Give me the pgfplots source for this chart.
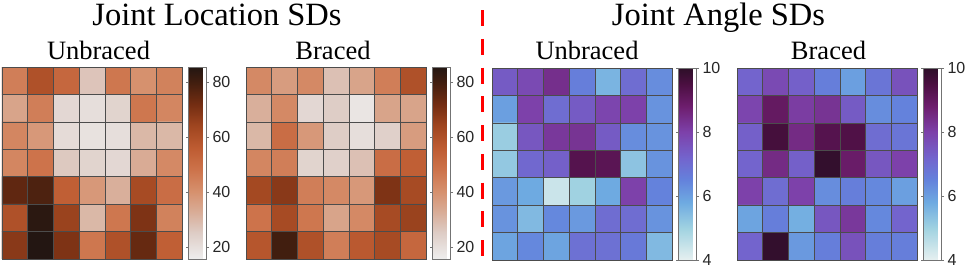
\documentclass[border=0pt]{standalone}
\usepackage{fontspec}
\setmainfont{Liberation Serif}
\newfontfamily\cbfont{Liberation Sans}
\usepackage{pgfplots}
\pgfplotsset{compat=1.18}

\pgfplotsset{
  colormap={brownmap}{
    rgb255(15.5pt)=(238,238,238);
    rgb255(25pt)=(222,205,198);
    rgb255(32pt)=(217,175,155);
    rgb255(40pt)=(214,145,110);
    rgb255(48pt)=(205,115,75);
    rgb255(56pt)=(190,92,50);
    rgb255(64pt)=(160,70,32);
    rgb255(72pt)=(115,45,18);
    rgb255(80pt)=(65,30,15);
    rgb255(85.5pt)=(35,22,18)
  },
  colormap={bluemap}{
    rgb255(40pt)=(230,240,240);
    rgb255(50pt)=(160,210,225);
    rgb255(58pt)=(110,170,225);
    rgb255(65pt)=(100,130,220);
    rgb255(72pt)=(115,100,205);
    rgb255(80pt)=(125,65,170);
    rgb255(88pt)=(110,30,110);
    rgb255(95pt)=(75,15,65);
    rgb255(100pt)=(45,15,40)
  },
  hm/.style={
    scale only axis, width=180pt, height=192pt,
    anchor=north west,
    xmin=-0.5, xmax=6.5, ymin=-0.5, ymax=6.5, y dir=reverse,
    enlargelimits=false,
    xtick={-0.5,0.5,...,6.5}, ytick={-0.5,0.5,...,6.5},
    xticklabels={}, yticklabels={},
    major tick length=0pt,
    grid=major, grid style={draw=black!70, line width=0.6pt},
    axis on top, axis line style={draw=black!70, line width=0.6pt},
    colorbar,
    colorbar style={
      at={(parent axis.north east)}, anchor=north west, xshift=-2pt,
      width=18pt,
      axis line style={draw=black!55, line width=0.6pt},
      major tick length=2.5pt,
      tick style={draw=black!55},
      tick align=outside,
      yticklabel style={font=\cbfont\fontsize{16}{18}\selectfont, text=black!85},
      /pgf/number format/assume math mode=true,
    },
  },
}

\begin{document}
\begin{tikzpicture}
\path[use as bounding box] (0pt,0pt) rectangle (967pt,-268pt);
\fill[white] (0pt,0pt) rectangle (967pt,-268pt);

% titles
\node[anchor=base, inner sep=0pt] at (217pt,-25pt) {\fontsize{32.5}{36}\selectfont Joint Location SDs};
\node[anchor=base, inner sep=0pt] at (718.5pt,-25pt) {\fontsize{32.5}{36}\selectfont Joint Angle SDs};
\node[anchor=base, inner sep=0pt] at (98.5pt,-59pt) {\fontsize{26.5}{30}\selectfont Unbraced};
\node[anchor=base, inner sep=0pt] at (333pt,-59pt) {\fontsize{26.5}{30}\selectfont Braced};
\node[anchor=base, inner sep=0pt] at (587pt,-59pt) {\fontsize{26.5}{30}\selectfont Unbraced};
\node[anchor=base, inner sep=0pt] at (828.5pt,-59pt) {\fontsize{26.5}{30}\selectfont Braced};

% divider
\draw[red, line width=3.8pt, dash pattern=on 16pt off 12.75pt] (482.5pt,-10pt) -- (482.5pt,-257pt);

% Joint Location, Unbraced
\begin{axis}[hm, at={(2pt,-67pt)}, colormap name=brownmap,
  point meta min=15.5, point meta max=85.5,
  colorbar style={ytick={20,40,60,80}}]
\addplot[matrix plot*, mesh/cols=7, point meta=explicit] coordinates {
(0,0)[45] (1,0)[60] (2,0)[52] (3,0)[27] (4,0)[47] (5,0)[40] (6,0)[44]
(0,1)[35] (1,1)[45] (2,1)[22] (3,1)[20] (4,1)[23] (5,1)[47] (6,1)[43]
(0,2)[43] (1,2)[38] (2,2)[21] (3,2)[19] (4,2)[20] (5,2)[30] (6,2)[30]
(0,3)[43] (1,3)[48] (2,3)[26] (3,3)[23] (4,3)[22] (5,3)[33] (6,3)[42]
(0,4)[75] (1,4)[78] (2,4)[55] (3,4)[38] (4,4)[32] (5,4)[62] (6,4)[50]
(0,5)[60] (1,5)[84] (2,5)[65] (3,5)[30] (4,5)[47] (5,5)[70] (6,5)[44]
(0,6)[68] (1,6)[86] (2,6)[70] (3,6)[47] (4,6)[60] (5,6)[74] (6,6)[55]
};
\end{axis}

% Joint Location, Braced
\begin{axis}[hm, at={(246pt,-67pt)}, colormap name=brownmap,
  point meta min=15.5, point meta max=85.5,
  colorbar style={ytick={20,40,60,80}}]
\addplot[matrix plot*, mesh/cols=7, point meta=explicit] coordinates {
(0,0)[42] (1,0)[37] (2,0)[42] (3,0)[28] (4,0)[35] (5,0)[45] (6,0)[60]
(0,1)[32] (1,1)[42] (2,1)[22] (3,1)[25] (4,1)[18] (5,1)[35] (6,1)[35]
(0,2)[30] (1,2)[50] (2,2)[38] (3,2)[25] (4,2)[20] (5,2)[24] (6,2)[37]
(0,3)[43] (1,3)[45] (2,3)[23] (3,3)[24] (4,3)[28] (5,3)[50] (6,3)[55]
(0,4)[63] (1,4)[68] (2,4)[45] (3,4)[42] (4,4)[38] (5,4)[70] (6,4)[62]
(0,5)[48] (1,5)[62] (2,5)[47] (3,5)[35] (4,5)[42] (5,5)[62] (6,5)[65]
(0,6)[58] (1,6)[80] (2,6)[60] (3,6)[45] (4,6)[57] (5,6)[62] (6,6)[52]
};
\end{axis}

% Joint Angle, Unbraced
\begin{axis}[hm, at={(492pt,-68pt)}, colormap name=bluemap,
  point meta min=4, point meta max=10,
  colorbar style={ytick={4,6,8,10}}]
\addplot[matrix plot*, mesh/cols=7, point meta=explicit] coordinates {
(0,0)[7.4] (1,0)[7.8] (2,0)[8.4] (3,0)[6.6] (4,0)[5.6] (5,0)[7.0] (6,0)[6.3]
(0,1)[6.0] (1,1)[8.0] (2,1)[7.0] (3,1)[7.4] (4,1)[7.9] (5,1)[8.0] (6,1)[6.2]
(0,2)[5.1] (1,2)[7.5] (2,2)[8.2] (3,2)[8.3] (4,2)[7.4] (5,2)[6.3] (6,2)[6.2]
(0,3)[5.2] (1,3)[7.1] (2,3)[7.3] (3,3)[9.3] (4,3)[9.2] (5,3)[5.3] (6,3)[6.2]
(0,4)[6.1] (1,4)[5.8] (2,4)[4.4] (3,4)[5.0] (4,4)[5.8] (5,4)[8.0] (6,4)[6.5]
(0,5)[6.2] (1,5)[5.5] (2,5)[6.4] (3,5)[6.1] (4,5)[7.0] (5,5)[7.0] (6,5)[6.2]
(0,6)[5.9] (1,6)[6.4] (2,6)[5.9] (3,6)[6.9] (4,6)[6.9] (5,6)[6.7] (6,6)[5.5]
};
\end{axis}

% Joint Angle, Braced
\begin{axis}[hm, at={(737pt,-68pt)}, colormap name=bluemap,
  point meta min=4, point meta max=10,
  colorbar style={ytick={4,6,8,10}}]
\addplot[matrix plot*, mesh/cols=7, point meta=explicit] coordinates {
(0,0)[7.2] (1,0)[7.8] (2,0)[7.3] (3,0)[6.6] (4,0)[6.0] (5,0)[6.8] (6,0)[7.6]
(0,1)[7.9] (1,1)[9.0] (2,1)[8.1] (3,1)[8.3] (4,1)[7.4] (5,1)[6.3] (6,1)[6.5]
(0,2)[7.3] (1,2)[9.6] (2,2)[8.5] (3,2)[9.3] (4,2)[9.4] (5,2)[7.0] (6,2)[6.8]
(0,3)[7.2] (1,3)[8.5] (2,3)[7.3] (3,3)[9.9] (4,3)[8.9] (5,3)[7.5] (6,3)[8.0]
(0,4)[8.0] (1,4)[7.0] (2,4)[8.0] (3,4)[6.3] (4,4)[6.6] (5,4)[6.4] (6,4)[6.0]
(0,5)[5.9] (1,5)[6.6] (2,5)[5.7] (3,5)[7.5] (4,5)[8.2] (5,5)[6.4] (6,5)[7.2]
(0,6)[7.2] (1,6)[9.9] (2,6)[6.1] (3,6)[6.6] (4,6)[7.6] (5,6)[6.6] (6,6)[6.6]
};
\end{axis}
\end{tikzpicture}
\end{document}
